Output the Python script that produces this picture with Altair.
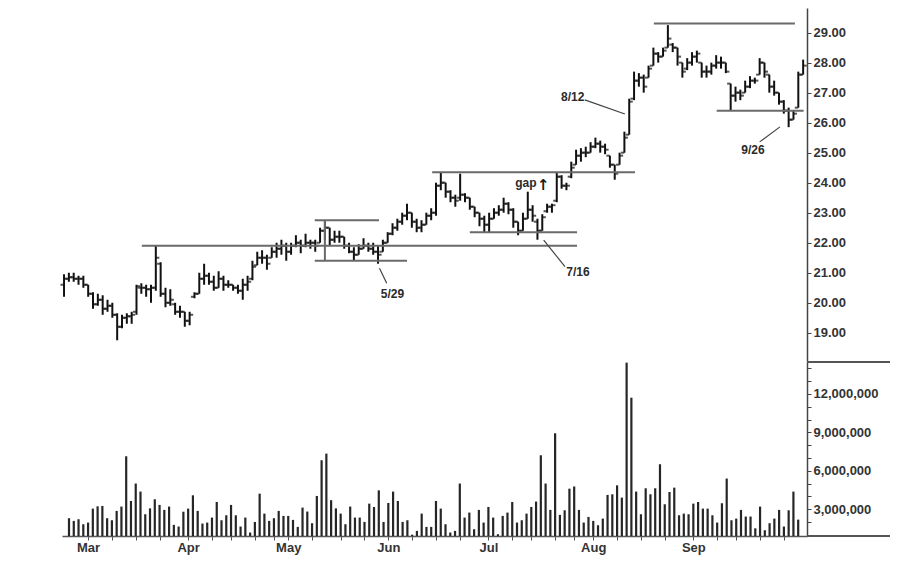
import altair as alt
import pandas as pd

# ---------------- data ----------------
open_ = [20.6, 20.8, 20.85, 20.8, 20.8, 20.6, 20.3, 19.95, 20.1, 19.8,
         19.9, 19.6, 19.2, 19.5, 19.55, 19.7, 20.5, 20.5, 20.45, 20.5,
         21.3, 20.3, 20.0, 19.95, 19.7, 19.7, 19.4, 20.2, 20.3, 20.8,
         20.9, 20.7, 20.5, 20.8, 20.6, 20.6, 20.5, 20.4, 20.6, 20.8,
         21.25, 21.5, 21.5, 21.5, 21.7, 21.8, 21.9, 21.7, 21.9, 22.0,
         21.9, 22.0, 22.0, 22.0, 22.4, 22.5, 22.1, 22.2, 22.2, 21.9,
         21.7, 21.6, 21.8, 21.9, 21.8, 21.7, 21.7, 22.0, 22.3, 22.5,
         22.7, 22.9, 23.0, 22.7, 22.5, 22.6, 22.9, 23.0, 23.9, 24.0,
         23.7, 23.5, 23.5, 23.6, 23.5, 23.2, 23.0, 22.8, 22.6, 22.8,
         23.0, 23.1, 23.3, 23.1, 22.7, 22.4, 22.8, 23.1, 22.7, 22.4,
         23.05, 23.2, 23.4, 24.2, 23.9, 24.2, 24.6, 24.9, 25.0, 25.0,
         25.2, 25.3, 25.2, 24.9, 24.6, 24.6, 25.0, 25.6, 26.8, 27.4,
         27.5, 27.5, 27.9, 28.3, 28.2, 28.5, 28.6, 28.5, 28.0, 27.8,
         28.0, 28.2, 28.0, 27.7, 27.7, 27.9, 28.0, 28.0, 27.3, 26.9,
         27.0, 27.0, 27.2, 27.4, 27.6, 28.0, 27.6, 27.2, 27.0, 26.7,
         26.4, 26.1, 26.5, 27.6]
high = [20.95, 21.0, 21.0, 20.9, 20.9, 20.6, 20.35, 20.3, 20.25, 20.1,
        20.0, 19.65, 19.6, 19.65, 19.7, 20.6, 20.65, 20.6, 20.6, 21.9,
        21.35, 20.5, 20.45, 20.0, 19.9, 19.7, 19.7, 20.35, 21.0, 21.3,
        21.0, 20.9, 21.05, 20.9, 20.75, 20.6, 20.6, 20.8, 20.9, 21.4,
        21.7, 21.75, 21.6, 21.85, 22.0, 22.1, 22.0, 22.0, 22.25, 22.1,
        22.3, 22.1, 22.1, 22.5, 22.75, 22.5, 22.4, 22.4, 22.2, 22.0,
        21.85, 21.95, 22.15, 22.0, 22.0, 21.9, 22.1, 22.35, 22.65, 22.8,
        23.0, 23.3, 23.0, 22.8, 22.75, 23.0, 23.15, 24.0, 24.35, 24.0,
        23.75, 23.6, 24.3, 23.65, 23.5, 23.2, 23.0, 22.9, 23.0, 23.15,
        23.25, 23.5, 23.35, 23.15, 22.7, 23.0, 23.7, 23.25, 22.8, 22.95,
        23.3, 23.3, 24.35, 24.25, 24.0, 24.7, 25.1, 25.15, 25.2, 25.35,
        25.5, 25.4, 25.3, 24.9, 24.6, 25.0, 25.7, 26.8, 27.7, 27.65,
        27.6, 27.9, 28.5, 28.35, 28.5, 29.25, 28.65, 28.5, 28.0, 28.15,
        28.35, 28.4, 28.0, 27.9, 28.0, 28.25, 28.2, 28.0, 27.3, 27.2,
        27.1, 27.4, 27.55, 27.5, 28.15, 28.0, 27.6, 27.4, 27.0, 26.75,
        26.5, 26.4, 27.7, 28.1]
low = [20.2, 20.7, 20.7, 20.6, 20.5, 20.2, 19.8, 19.9, 19.6, 19.7,
       19.5, 18.75, 19.15, 19.3, 19.3, 19.6, 20.3, 20.2, 20.0, 20.4,
       20.2, 19.85, 19.9, 19.6, 19.5, 19.2, 19.25, 20.15, 20.3, 20.6,
       20.6, 20.4, 20.5, 20.4, 20.5, 20.4, 20.3, 20.1, 20.4, 20.75,
       21.25, 21.3, 21.1, 21.5, 21.5, 21.6, 21.4, 21.6, 21.85, 21.65,
       21.85, 21.8, 21.7, 22.0, 22.1, 21.9, 22.0, 22.0, 21.8, 21.65,
       21.4, 21.6, 21.8, 21.7, 21.6, 21.3, 21.7, 22.0, 22.25, 22.4,
       22.6, 22.75, 22.5, 22.35, 22.35, 22.6, 22.75, 22.9, 23.75, 23.5,
       23.35, 23.2, 23.4, 23.35, 23.1, 22.85, 22.55, 22.35, 22.35, 22.8,
       22.9, 23.0, 22.95, 22.5, 22.25, 22.4, 22.8, 22.7, 22.1, 22.4,
       23.0, 23.0, 23.35, 23.8, 23.75, 24.15, 24.6, 24.7, 24.85, 25.0,
       25.15, 25.0, 24.95, 24.5, 24.1, 24.6, 25.0, 25.6, 26.75, 27.2,
       27.0, 27.5, 27.9, 28.0, 28.2, 28.5, 28.35, 27.9, 27.5, 27.75,
       27.9, 28.0, 27.5, 27.5, 27.6, 27.8, 27.8, 27.65, 26.4, 26.7,
       26.75, 27.0, 27.15, 27.3, 27.6, 27.5, 27.0, 26.9, 26.6, 26.3,
       25.85, 26.1, 26.5, 27.6]
close = [20.8, 20.85, 20.8, 20.8, 20.6, 20.3, 19.95, 20.1, 19.8, 19.9,
         19.6, 19.2, 19.5, 19.55, 19.6, 20.55, 20.5, 20.45, 20.5, 21.5,
         20.3, 20.0, 20.1, 19.7, 19.7, 19.4, 19.6, 20.3, 20.8, 20.9,
         20.7, 20.5, 20.8, 20.6, 20.6, 20.5, 20.4, 20.6, 20.7, 21.2,
         21.5, 21.5, 21.3, 21.7, 21.8, 21.9, 21.7, 21.9, 22.0, 21.9,
         22.0, 22.0, 21.9, 22.4, 22.5, 22.1, 22.2, 22.2, 21.9, 21.7,
         21.6, 21.8, 21.9, 21.8, 21.7, 21.6, 22.0, 22.3, 22.5, 22.7,
         22.9, 23.0, 22.7, 22.5, 22.6, 22.9, 23.0, 23.9, 24.0, 23.7,
         23.5, 23.4, 23.6, 23.5, 23.2, 23.0, 22.8, 22.6, 22.8, 23.0,
         23.1, 23.3, 23.1, 22.7, 22.4, 22.8, 23.1, 22.9, 22.4, 22.85,
         23.2, 23.25, 24.2, 23.9, 23.9, 24.5, 24.9, 25.0, 25.0, 25.2,
         25.3, 25.2, 25.1, 24.6, 24.3, 24.9, 25.5, 26.7, 27.4, 27.5,
         27.2, 27.8, 28.3, 28.2, 28.4, 28.8, 28.5, 28.2, 27.7, 28.0,
         28.2, 28.3, 27.7, 27.7, 27.9, 28.0, 28.0, 27.7, 26.9, 27.0,
         26.9, 27.2, 27.4, 27.4, 28.0, 27.7, 27.2, 27.0, 26.7, 26.4,
         26.1, 26.3, 27.6, 27.9]
volume_m = [2.29, 2.08, 2.21, 1.82, 1.95, 3.04, 3.22, 3.25, 2.29, 2.13,
            2.86, 3.2, 7.13, 3.64, 5.0, 4.37, 2.6, 3.06, 3.77, 3.33,
            2.94, 3.2, 1.77, 1.64, 2.8, 3.04, 4.08, 2.86, 1.87, 1.95,
            2.34, 3.56, 2.13, 2.52, 3.33, 2.52, 1.64, 2.34, 1.17, 2.0,
            4.21, 2.65, 2.08, 2.29, 2.86, 2.47, 2.47, 2.16, 1.61, 3.12,
            2.81, 1.9, 4.03, 6.82, 7.34, 3.7, 3.06, 2.65, 1.82, 3.2,
            2.34, 2.34, 2.0, 3.43, 3.17, 4.47, 2.0, 3.48, 4.37, 3.64,
            2.0, 2.13, 1.0, 1.3, 2.65, 1.61, 1.61, 3.64, 3.04, 1.82,
            1.17, 1.3, 5.0, 2.34, 2.73, 1.43, 2.94, 1.95, 3.17, 2.34,
            1.04, 2.47, 2.73, 3.56, 1.95, 2.13, 2.65, 3.17, 3.59, 7.21,
            5.0, 2.94, 8.93, 2.55, 2.91, 4.6, 4.76, 2.94, 1.95, 2.39,
            2.08, 1.74, 2.26, 4.11, 4.16, 4.86, 3.9, 14.45, 11.71, 4.37,
            2.6, 4.63, 4.16, 4.63, 6.51, 3.38, 4.34, 4.68, 2.52, 2.65,
            2.6, 3.43, 3.56, 3.04, 3.04, 2.52, 1.95, 3.46, 5.39, 2.13,
            2.26, 2.94, 2.42, 2.42, 1.5, 3.2, 1.35, 1.9, 2.26, 2.94,
            1.64, 2.91, 4.37, 2.18]
day = list(range(len(close)))

month_idx = [4, 25, 46, 67, 88, 110, 131]
month_names = ["Mar", "Apr", "May", "Jun", "Jul", "Aug", "Sep"]
week_idx = [9, 14, 19, 30, 34, 39, 43, 51, 57, 62, 72, 77, 82, 93, 97,
            102, 106, 115, 120, 125, 136, 140, 145, 150]

price_ticks = [19, 20, 21, 22, 23, 24, 25, 26, 27, 28, 29]
volume_ticks = [1, 2, 3, 4, 5, 6, 7, 8, 9, 10, 11, 12, 13, 14]

# support / resistance lines (price level, from day, to day)
line_level = [21.9, 22.75, 21.4, 24.35, 22.35, 29.3, 26.4]
line_from = [16.1, 51.9, 51.9, 76.2, 84.0, 122.1, 135.1]
line_to = [106.2, 65.2, 71.0, 118.2, 106.2, 151.3, 153.1]
vline_day = [54.0]
vline_lo = [21.4]
vline_hi = [22.75]

# annotations
note_text = ["5/29", "7/16", "gap", "8/12", "9/26"]
note_day = [68.0, 106.4, 95.6, 105.3, 142.6]
note_price = [20.3, 21.02, 23.99, 26.86, 25.09]
leader_x0 = [65.3, 99.3, 107.8, 144.0]
leader_y0 = [21.15, 22.09, 26.76, 25.36]
leader_x1 = [66.8, 103.7, 116.1, 148.2]
leader_y1 = [20.65, 21.2, 26.29, 25.86]
arrow_day = [99.2]
arrow_price = [23.93]

# ---------------- tables ----------------
bars = pd.DataFrame({"day": day, "open": open_, "high": high, "low": low,
                     "close": close, "volume": volume_m})
lines = pd.DataFrame({"level": line_level, "x0": line_from, "x1": line_to})
vlines = pd.DataFrame({"day": vline_day, "lo": vline_lo, "hi": vline_hi})
notes = pd.DataFrame({"text": note_text, "day": note_day, "price": note_price})
leaders = pd.DataFrame({"x0": leader_x0, "y0": leader_y0,
                        "x1": leader_x1, "y1": leader_y1})
arrows = pd.DataFrame({"day": arrow_day, "price": arrow_price, "t": ["↑"]})

FONT = "Liberation Sans"
INK = "#111111"
W = 745
xscale = alt.Scale(domain=[-0.42, 153.8], nice=False, zero=False)
pscale = alt.Scale(domain=[18.06, 29.82], nice=False, zero=False)
vscale = alt.Scale(domain=[0.9, 14.5], nice=False, zero=False)

paxis = alt.Axis(orient="right", values=price_ticks, format=".2f", grid=False,
                 title=None, domainColor="#444", domainWidth=1.5,
                 tickColor="#444", tickSize=4, tickWidth=1,
                 labelFont=FONT, labelFontSize=13, labelFontWeight="bold",
                 labelColor="#333", labelPadding=2, labelOverlap=False)


def X(field):
    return alt.X(field, type="quantitative", scale=xscale, axis=None)


def P(field):
    return alt.Y(field, type="quantitative", scale=pscale, axis=paxis)


hl = alt.Chart(bars).mark_rule(color=INK, strokeWidth=2).encode(
    x=X("day"), y=P("low"), y2="high")
op = alt.Chart(bars).mark_tick(color=INK, orient="horizontal", size=3.5,
                               thickness=2, xOffset=-1.8).encode(
    x=X("day"), y=P("open"))
cl = alt.Chart(bars).mark_tick(color=INK, orient="horizontal", size=3.5,
                               thickness=2, xOffset=1.8).encode(
    x=X("day"), y=P("close"))
sr = alt.Chart(lines).mark_rule(color="#6a6a6a", strokeWidth=2).encode(
    x=X("x0"), x2="x1", y=P("level"))
vl = alt.Chart(vlines).mark_rule(color="#6a6a6a", strokeWidth=2).encode(
    x=X("day"), y=P("lo"), y2="hi")
ld = alt.Chart(leaders).mark_rule(color="#444", strokeWidth=1.2).encode(
    x=X("x0"), x2="x1", y=P("y0"), y2="y1")
tx = alt.Chart(notes).mark_text(font=FONT, fontSize=12, fontWeight="bold",
                                color="#2a2a2a", align="center",
                                baseline="middle").encode(
    x=X("day"), y=P("price"), text="text")
ar = alt.Chart(arrows).mark_text(font="DejaVu Sans", fontSize=15,
                                 fontWeight="bold", color="#1c1c1c",
                                 align="center", baseline="middle").encode(
    x=X("day"), y=P("price"), text="t")

price = alt.layer(hl, op, cl, sr, vl, ld, tx, ar).properties(width=W, height=353)

# ---------------- volume panel ----------------
xvals = sorted(month_idx + week_idx)
xlabel = (f"indexof({month_idx}, datum.value) >= 0 ? "
          f"{month_names}[indexof({month_idx}, datum.value)] : ''")
xaxis = alt.Axis(values=xvals, labelExpr=xlabel, grid=False, title=None,
                 domainColor="#555", domainWidth=1.5, tickColor="#555",
                 tickSize=4, labelFont=FONT, labelFontSize=13,
                 labelFontWeight="bold", labelColor="#333", labelPadding=1,
                 labelOverlap=False, labelFlush=False)
vaxis = alt.Axis(orient="right", values=volume_ticks, grid=False, title=None,
                 labelExpr="datum.value % 3 == 0 ? format(datum.value * 1000000, ',') : ''",
                 domainColor="#444", domainWidth=1.5, tickColor="#444",
                 tickSize=4, labelFont=FONT, labelFontSize=13,
                 labelFontWeight="bold", labelColor="#333", labelPadding=2,
                 labelOverlap=False)

vbars = alt.Chart(bars).mark_bar(size=2.2, color="#262626", clip=True).encode(
    x=alt.X("day:Q", scale=xscale, axis=xaxis),
    y=alt.Y("volume:Q", scale=vscale, axis=vaxis))
divider = alt.Chart(bars).mark_rule(color="#555", strokeWidth=1.5).encode(
    x=alt.value(W), x2=alt.value(W + 83), y=alt.value(0))
bottom = alt.Chart(bars).mark_rule(color="#555", strokeWidth=1.5).encode(
    x=alt.value(W), x2=alt.value(W + 83), y=alt.value(174))

volume = alt.layer(vbars, divider, bottom).properties(width=W, height=174)

chart = alt.vconcat(price, volume, spacing=0).properties(
    padding={"left": 52, "top": 0, "right": 5, "bottom": 5},
    background="white",
).configure_view(strokeWidth=0)

chart.save("out.html", embed_options={"renderer": "svg", "actions": False})
